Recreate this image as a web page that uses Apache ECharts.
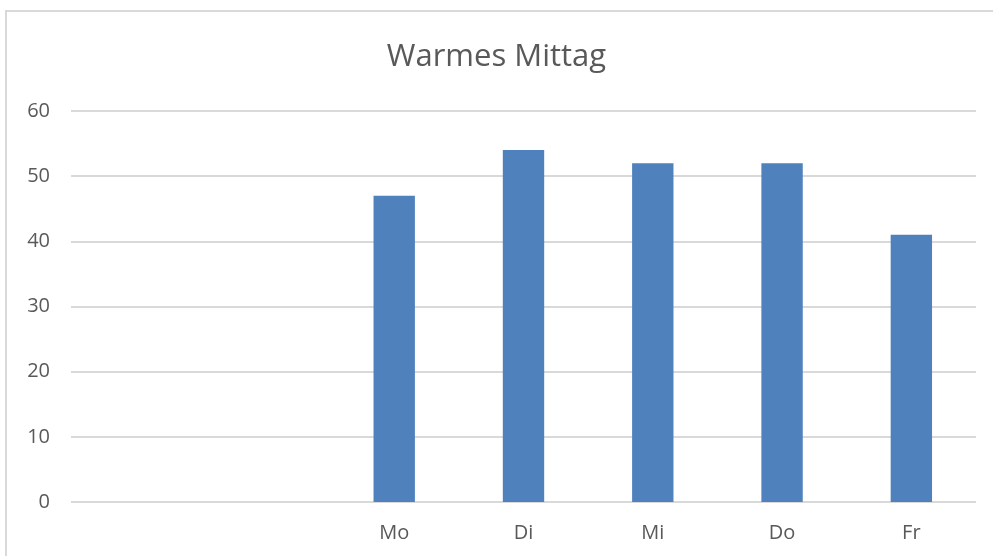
<!DOCTYPE html>
<html>
<head>
<meta charset="utf-8">
<script src="https://cdn.jsdelivr.net/npm/echarts@6/dist/echarts.min.js"></script>
<style>
  html, body { margin: 0; padding: 0; background: #fff; }
  #frame { position: absolute; left: 5px; top: 10px; width: 1000px; height: 560px; border: 2px solid #d9d9d9; box-sizing: border-box; }
  #chart { position: absolute; left: 0; top: 0; width: 993px; height: 556px; }
</style>
</head>
<body>
<div id="frame"></div>
<div id="chart"></div>
<script>
  // Wochentage, die ersten zwei Kategorien sind leer
  var tage = ['', '', 'Mo', 'Di', 'Mi', 'Do', 'Fr'];
  var werte = [null, null, 47, 54, 52, 52, 41];
  var yTicks = [0, 10, 20, 30, 40, 50, 60];

  var myChart = echarts.init(document.getElementById('chart'));
  myChart.setOption({
    animation: false,
    title: {
      text: 'Warmes Mittag',
      left: 'center',
      top: 37,
      textStyle: { fontFamily: 'Open Sans', fontSize: 31, fontWeight: 'normal', color: '#595959' }
    },
    grid: { left: 71, right: 17, top: 111, bottom: 54 },
    xAxis: {
      type: 'category',
      data: tage,
      axisLine: { show: false },
      axisTick: { show: false },
      axisLabel: { margin: 21, fontFamily: 'Open Sans', fontSize: 20, color: '#595959' }
    },
    yAxis: {
      type: 'value',
      min: yTicks[0],
      max: yTicks[yTicks.length - 1],
      interval: 10,
      axisLine: { show: false },
      axisTick: { show: false },
      axisLabel: { margin: 21, fontFamily: 'Open Sans', fontSize: 20, color: '#595959' },
      splitLine: { lineStyle: { color: '#d9d9d9', width: 2 } }
    },
    series: [{
      type: 'bar',
      data: werte,
      barWidth: '32%',
      itemStyle: { color: '#4f81bd' }
    }]
  });
  window.addEventListener('resize', myChart.resize);
</script>
</body>
</html>
